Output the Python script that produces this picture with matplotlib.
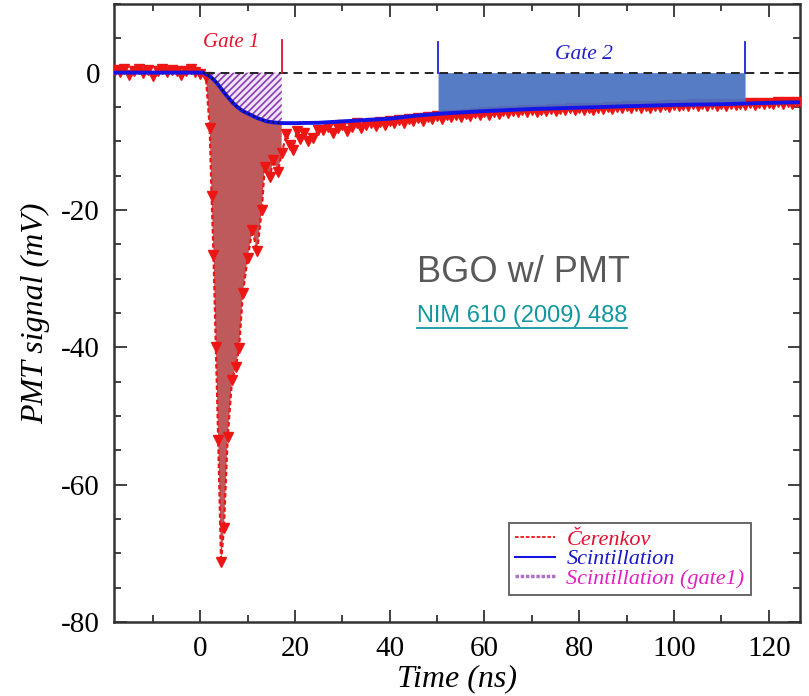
import numpy as np
import matplotlib.pyplot as plt
from matplotlib.lines import Line2D
from matplotlib.ticker import MultipleLocator

plt.rcParams['font.family'] = ['Liberation Serif', 'DejaVu Serif']
plt.rcParams['axes.unicode_minus'] = False
plt.rcParams['hatch.linewidth'] = 1.2

# Cerenkov signal (ns, mV)
cer_x_base = np.arange(-18, 1)
cer_y_base = [0.4, 0.1, 0.5, -0.3, 0.3, 0.5, 0.0, 0.4, -0.5, 0.2, 0.5, 0.1,
              0.4, 0.2, -0.4, 0.3, 0.5, 0.1, -0.2]
cer_x_pulse = [1.2, 2.0, 2.4, 2.8, 3.3, 3.8, 4.4, 5.0, 5.8, 6.7, 7.5, 8.2,
               9.0, 10.0, 11.0, 12.0, 13.0, 13.6, 14.7, 15.4, 16.4, 17.2,
               18.2, 19.0, 19.6, 20.4, 21.0, 22.0, 22.8, 23.8, 24.9]
cer_y_pulse = [-0.6, -8.0, -18.0, -26.5, -40.0, -53.5, -71.3, -66.3, -53.1,
               -44.8, -42.9, -40.1, -32.1, -27.0, -22.9, -26.0, -20.0, -13.8,
               -15.2, -12.7, -14.4, -11.7, -9.0, -10.5, -11.2, -8.5, -9.6,
               -8.8, -10.0, -9.5, -8.3]
cer_x_tail = np.arange(26, 128)
cer_y_tail = [-8.4, -7.9, -8.8, -8.1, -7.6, -8.5, -7.9, -7.4, -8.0, -7.6,
              -7.3, -7.8, -7.2, -7.6, -7.0, -7.4, -6.9, -7.3, -6.8, -7.1,
              -6.6, -7.0, -6.5, -6.8, -6.3, -6.7, -6.2, -6.5, -6.1, -6.4,
              -6.0, -6.3, -5.9, -6.2, -5.8, -6.1, -5.7, -6.0, -5.6, -5.9,
              -5.6, -5.8, -5.5, -5.8, -5.4, -5.7, -5.4, -5.6, -5.3, -5.6,
              -5.3, -5.5, -5.2, -5.5, -5.2, -5.4, -5.1, -5.4, -5.1, -5.3,
              -5.0, -5.3, -5.0, -5.2, -4.9, -5.2, -4.9, -5.1, -4.8, -5.1,
              -4.8, -5.0, -4.7, -5.0, -4.7, -4.9, -4.7, -4.9, -4.6, -4.9,
              -4.6, -4.8, -4.6, -4.8, -4.5, -4.8, -4.5, -4.7, -4.5, -4.7,
              -4.4, -4.7, -4.4, -4.6, -4.4, -4.6, -4.3, -4.6, -4.3, -4.5,
              -4.3, -4.5]

# Scintillation component
sc_x = [-18, 0, 0.6, 1.5, 2.5, 3.5, 4.5, 5.5, 6.9, 8, 9, 10.5, 12, 14, 15.5,
        17.2, 20, 25, 30, 35, 40, 45, 50.2, 55, 60, 70, 80, 90, 100, 110,
        115, 120, 127]
sc_y = [0, 0, 0, -0.3, -0.8, -1.5, -2.4, -3.3, -4.4, -5.1, -5.6, -6.1,
        -6.6, -7.1, -7.25, -7.35, -7.35, -7.3, -7.1, -6.9, -6.7, -6.3, -6.0,
        -5.8, -5.6, -5.3, -5.1, -4.9, -4.7, -4.6, -4.5, -4.4, -4.3]

gate1 = (0.6, 17.2)
gate2 = (50.2, 115.0)

cer_x = np.concatenate([cer_x_base, cer_x_pulse, cer_x_tail])
cer_y = np.concatenate([cer_y_base, cer_y_pulse, cer_y_tail])
sc_x = np.array(sc_x)
sc_y = np.array(sc_y)

fig = plt.figure(figsize=(8.09, 6.96), dpi=100)
ax = fig.add_axes([0.1409, 0.1063, 0.848, 0.888])

# cerenkov area (between pulse and scintillation, inside gate 1)
m1 = (cer_x >= gate1[0]) & (cer_x <= gate1[1])
m2 = (sc_x >= gate1[0]) & (sc_x <= gate1[1])
px = np.concatenate([cer_x[m1], sc_x[m2][::-1]])
py = np.concatenate([cer_y[m1], sc_y[m2][::-1]])
ax.fill(px, py, color='#bf5a5c', lw=0, zorder=1)

# scintillation inside gate 1 (hatched)
ax.fill_between(sc_x[m2], 0, sc_y[m2], facecolor='#f0e4f8',
                edgecolor='#8a3cb4', hatch='/////', lw=0, zorder=1)

ax.plot(cer_x, cer_y, ls=(0, (2, 1.2)), lw=1.6, color='#ee1515',
        marker='v', ms=6.5, mec='#ee1515', zorder=3)

# scintillation inside gate 2
m3 = (sc_x >= gate2[0]) & (sc_x <= gate2[1])
ax.fill_between(sc_x[m3], 0, sc_y[m3], color='#4a72c2', alpha=0.93,
                lw=0, zorder=4)

ax.plot(sc_x, sc_y, color='#1414e6', lw=2.8, zorder=5)
ax.plot(sc_x[m2], sc_y[m2], color='#101030', lw=1.4, ls=':', zorder=6)

ax.plot([1.2, 127], [0, 0], color='#222222', lw=1.4, ls=(0, (4.5, 3)), zorder=6)

# gate markers
ax.plot([gate1[1], gate1[1]], [0, 4.8], color='#e8102a', lw=1.3, zorder=6)
for g in gate2:
    ax.plot([g, g], [0, 4.5], color='#2020dd', lw=1.3, zorder=6)
ax.text(6.5, 4.4, 'Gate 1', color='#e8102a', style='italic', fontsize=15,
        ha='center', va='center')
ax.text(81, 2.7, 'Gate 2', color='#2020c8', style='italic', fontsize=15.5,
        ha='center', va='center')

ax.set_xlim(-18.2, 126.6)
ax.set_ylim(-80, 10)
ax.xaxis.set_major_locator(MultipleLocator(20))
ax.xaxis.set_minor_locator(MultipleLocator(10))
ax.yaxis.set_major_locator(MultipleLocator(20))
ax.yaxis.set_minor_locator(MultipleLocator(5))
ax.tick_params(which='both', direction='in', top=True, right=True,
               width=1.3, colors='#333333', labelcolor='black')
ax.tick_params(which='major', length=9, labelsize=21, pad=10)
ax.tick_params(which='minor', length=5)
ax.set_yticks([0, -20, -40, -60, -80])
ax.set_yticklabels(['0', '-20', '-40', '-60', '-80'])
ax.set_xticks([0, 20, 40, 60, 80, 100, 120])
for s in ax.spines.values():
    s.set_linewidth(1.8)
    s.set_color('#333333')

ax.set_xlabel('Time (ns)', style='italic', fontsize=23, labelpad=2)
ax.set_ylabel('PMT signal (mV)', style='italic', fontsize=23, labelpad=8)

handles = [
    Line2D([], [], color='#ee1515', ls=(0, (2, 1)), lw=1.3),
    Line2D([], [], color='#1414e6', lw=1.5),
    Line2D([], [], color='#b070c8', lw=2.5, ls=(0, (1, 0.5))),
]
leg = ax.legend(handles, ['Čerenkov', 'Scintillation', 'Scintillation (gate1)'],
                loc='lower right', bbox_to_anchor=(0.945, 0.025),
                prop={'style': 'italic', 'size': 16}, frameon=True,
                fancybox=False, edgecolor='#333333', handlelength=1.8,
                labelspacing=-0.05, borderpad=0.3, handletextpad=0.5)
leg.get_frame().set_linewidth(1.3)
for t, c in zip(leg.get_texts(), ['#e01030', '#1818c8', '#e020c0']):
    t.set_color(c)

fig.text(417 / 809, 1 - 272 / 696, 'BGO w/ PMT', family='Liberation Sans',
         color='#595959', fontsize=26, va='center', ha='left')
link = fig.text(417 / 809, 1 - 316 / 696, 'NIM 610 (2009) 488',
                family='Liberation Sans', color='#13979f', fontsize=17,
                va='center', ha='left')

fig.canvas.draw()
bb = link.get_window_extent().transformed(fig.transFigure.inverted())
fig.add_artist(Line2D([bb.x0, bb.x1], [bb.y0 - 0.002, bb.y0 - 0.002],
                      color='#13979f', lw=1.3, transform=fig.transFigure))

fig.savefig('out.png', dpi=100)
